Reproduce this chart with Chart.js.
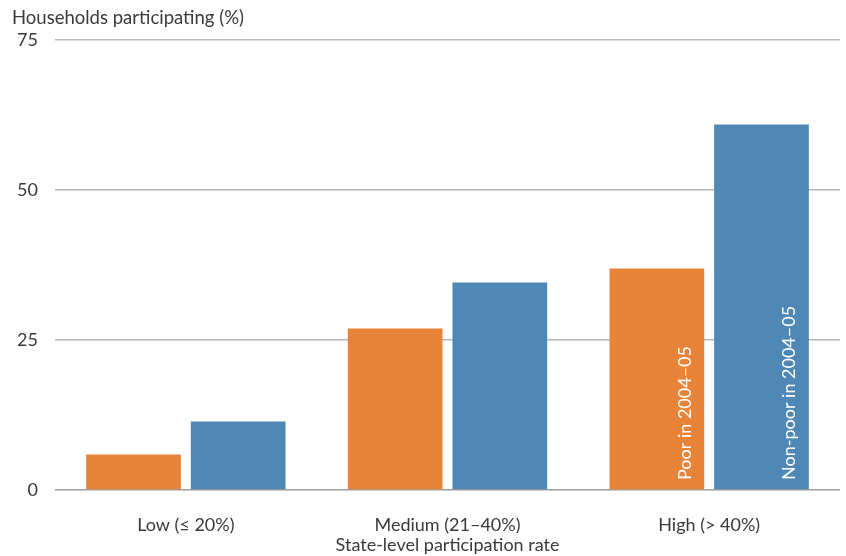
<!DOCTYPE html>
<html>
<head>
<meta charset="utf-8">
<script src="https://cdn.jsdelivr.net/npm/chart.js@4"></script>
<style>
  html, body { margin: 0; padding: 0; background: #fff; }
  #wrap { width: 846px; height: 556px; }
</style>
</head>
<body>
<div id="wrap"><canvas id="chart"></canvas></div>
<script>
const categories = ['Low (≤ 20%)', 'Medium (21–40%)', 'High (> 40%)']
const poor = [5.9, 26.9, 36.9]
const nonPoor = [11.4, 34.6, 60.9]
const seriesNames = ['Poor in 2004–05', 'Non-poor in 2004–05']
const yTicks = [0, 25, 50, 75]

const textColor = '#3a3a3a'
const fontFamily = 'Lato, "Open Sans", sans-serif'

// title at top left, and the white labels inside the last group of bars
const annotations = {
  id: 'annotations',
  afterDraw(chart) {
    const ctx = chart.ctx
    ctx.save()
    ctx.fillStyle = textColor
    ctx.font = '18.5px ' + fontFamily
    ctx.textAlign = 'left'
    ctx.textBaseline = 'middle'
    ctx.fillText('Households participating (%)', 12, 18)

    const last = categories.length - 1
    chart.data.datasets.forEach((ds, i) => {
      const bar = chart.getDatasetMeta(i).data[last]
      ctx.save()
      ctx.translate(bar.x + 28, chart.chartArea.bottom - 10)
      ctx.rotate(-Math.PI / 2)
      ctx.fillStyle = '#ffffff'
      ctx.font = '18px ' + fontFamily
      ctx.textAlign = 'left'
      ctx.textBaseline = 'middle'
      ctx.fillText(seriesNames[i], 0, 0)
      ctx.restore()
    })
    ctx.restore()
  }
}

new Chart(document.getElementById('chart'), {
  type: 'bar',
  data: {
    labels: categories,
    datasets: [
      { label: seriesNames[0], data: poor, backgroundColor: '#e8833a' },
      { label: seriesNames[1], data: nonPoor, backgroundColor: '#5088b5' }
    ]
  },
  options: {
    responsive: true,
    maintainAspectRatio: false,
    animation: false,
    categoryPercentage: 0.8,
    barPercentage: 0.905,
    layout: { padding: { top: 40, right: 6, left: 0, bottom: 0 } },
    plugins: {
      legend: { display: false },
      tooltip: { enabled: false }
    },
    scales: {
      x: {
        grid: { display: false },
        border: { display: false },
        ticks: {
          color: textColor,
          font: { family: fontFamily, size: 18 },
          padding: 16
        },
        title: {
          display: true,
          text: 'State-level participation rate',
          color: textColor,
          font: { family: fontFamily, size: 18 },
          padding: { top: 0, bottom: 0 }
        },
        afterFit(scale) { scale.height = 66 }
      },
      y: {
        min: 0,
        max: 75,
        afterBuildTicks(scale) { scale.ticks = yTicks.map(v => ({ value: v })) },
        border: { display: false },
        grid: {
          drawTicks: false,
          lineWidth: 1.5,
          color: ctx => ctx.tick.value === 0 ? '#9e9e9e' : '#b8b8b8'
        },
        ticks: {
          color: textColor,
          font: { family: fontFamily, size: 18 },
          padding: 17
        },
        afterFit(scale) { scale.width = 55 }
      }
    }
  },
  plugins: [annotations]
})
</script>
</body>
</html>
